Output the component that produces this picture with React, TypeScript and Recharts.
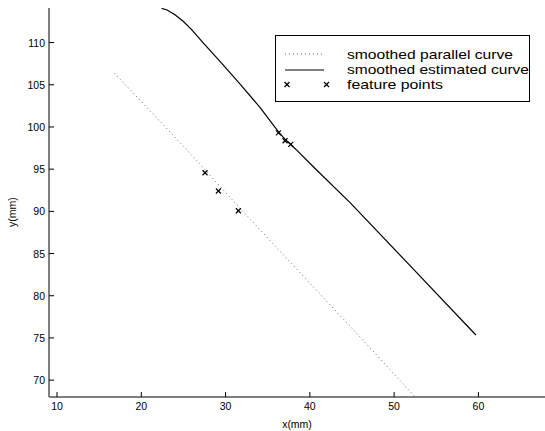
import { ComposedChart, Line, Scatter, XAxis, YAxis, Label } from "recharts";

// smoothed estimated curve (solid)
const estimatedX = [22.4, 23.0, 24.0, 25.0, 26.0, 27.4, 29.5, 31.8, 34.1, 36.3, 37.1, 37.7, 38.5, 40.5, 44.8, 52.0, 59.7];
const estimatedY = [114.05, 113.9, 113.3, 112.5, 111.5, 109.9, 107.6, 105.0, 102.3, 99.4, 98.5, 97.95, 97.2, 95.2, 91.0, 83.45, 75.35];

// smoothed parallel curve (dotted)
const parallelX = [16.8, 25.2, 31.5, 45.5, 52.5];
const parallelY = [106.4, 97.5, 90.6, 75.6, 68.0];

// feature points (x markers)
const featureX = [27.56, 29.15, 31.52, 36.27, 37.06, 37.73];
const featureY = [94.57, 92.41, 90.07, 99.31, 98.37, 97.94];

const xTicks = [10, 20, 30, 40, 50, 60];
const yTicks = [70, 75, 80, 85, 90, 95, 100, 105, 110];

const legendLabels = ["smoothed parallel curve", "smoothed estimated curve", "feature points"];
const legendWidths = [166, 182, 96];

const FONT = "'Liberation Sans', Arial, Helvetica, sans-serif";

const zip = (xs: number[], ys: number[]) => xs.map((x, i) => ({ x, y: ys[i] }));

const estimated = zip(estimatedX, estimatedY);
const parallel = zip(parallelX, parallelY);
const features = zip(featureX, featureY);

const XTick = (props: any) => {
  const { x, y, payload } = props;
  return (
    <g>
      <line x1={x} y1={y} x2={x} y2={y - 5} stroke="#000" />
      <text x={x} y={y + 13} textAnchor="middle" fontSize={10.5} fontFamily={FONT} fill="#000">
        {payload.value}
      </text>
    </g>
  );
};

const YTick = (props: any) => {
  const { x, y, payload } = props;
  return (
    <g>
      <line x1={x} y1={y} x2={x + 5} y2={y} stroke="#000" />
      <text x={x - 4} y={y + 4} textAnchor="end" fontSize={10.5} fontFamily={FONT} fill="#000">
        {payload.value}
      </text>
    </g>
  );
};

const Cross = (props: any) => {
  const { cx, cy } = props;
  const s = 2.5;
  return (
    <g stroke="#000" strokeWidth={1.2}>
      <line x1={cx - s} y1={cy - s} x2={cx + s} y2={cy + s} />
      <line x1={cx - s} y1={cy + s} x2={cx + s} y2={cy - s} />
    </g>
  );
};

function LegendBox() {
  return (
    <svg
      width={255}
      height={67}
      style={{ position: "absolute", left: 275, top: 35 }}
    >
      <rect x={0.5} y={0.5} width={254} height={66} fill="#fff" stroke="#000" />
      <line x1={10} y1={19} x2={47} y2={19} stroke="#666" strokeDasharray="1 3" />
      <line x1={10} y1={35} x2={49} y2={35} stroke="#000" strokeWidth={1.2} />
      <Cross cx={12} cy={49.5} />
      <Cross cx={51.5} cy={49.5} />
      {legendLabels.map((t, i) => (
        <text
          key={t}
          x={72}
          y={23.5 + i * 15}
          fontSize={13}
          fontFamily={FONT}
          fill="#000"
          textLength={legendWidths[i]}
          lengthAdjust="spacingAndGlyphs"
        >
          {t}
        </text>
      ))}
    </svg>
  );
}

export default function App() {
  return (
    <div style={{ position: "absolute", left: 0, top: 0, width: 545, height: 431, background: "#fff" }}>
      <ComposedChart width={545} height={431} margin={{ top: 8, right: 0, bottom: 0, left: 0 }}>
        <XAxis
          type="number"
          dataKey="x"
          domain={[9.05, 67.9]}
          ticks={xTicks}
          allowDataOverflow
          height={34}
          axisLine={{ stroke: "#000" }}
          tickLine={false}
          tickSize={0}
          tickMargin={0}
          tick={<XTick />}
        >
          <Label
            content={() => (
              <text x={297} y={428} textAnchor="middle" fontSize={10.5} fontFamily={FONT} fill="#000">
                x(mm)
              </text>
            )}
          />
        </XAxis>
        <YAxis
          type="number"
          dataKey="y"
          domain={[68, 114.1]}
          ticks={yTicks}
          allowDataOverflow
          width={49}
          axisLine={{ stroke: "#555", strokeWidth: 1.5 }}
          tickLine={false}
          tickSize={0}
          tickMargin={0}
          tick={<YTick />}
        >
          <Label
            content={() => (
              <text
                x={0}
                y={0}
                transform="translate(16 212) rotate(-90)"
                textAnchor="middle"
                fontSize={10.5}
                fontFamily={FONT}
                fill="#000"
              >
                y(mm)
              </text>
            )}
          />
        </YAxis>
        <Line
          data={parallel}
          dataKey="y"
          type="linear"
          stroke="#666"
          strokeWidth={1}
          strokeDasharray="1 3"
          dot={false}
          isAnimationActive={false}
        />
        <Line
          data={estimated}
          dataKey="y"
          type="linear"
          stroke="#000"
          strokeWidth={1.2}
          dot={false}
          isAnimationActive={false}
        />
        <Scatter data={features} dataKey="y" shape={<Cross />} isAnimationActive={false} />
      </ComposedChart>
      <LegendBox />
    </div>
  );
}
